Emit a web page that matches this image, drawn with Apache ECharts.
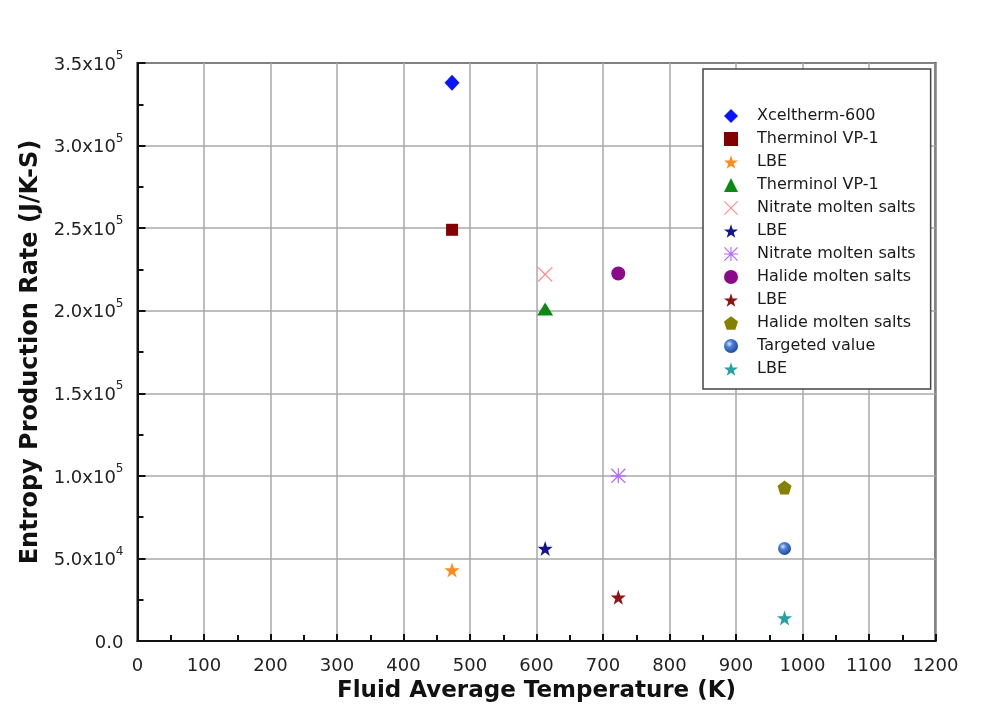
<!DOCTYPE html>
<html>
<head>
<meta charset="utf-8">
<script src="https://cdn.jsdelivr.net/npm/echarts@6/dist/echarts.min.js"></script>
<style>
html,body{margin:0;padding:0;background:#fff;}
#c{width:1005px;height:708px;}
</style>
</head>
<body>
<div id="c"></div>
<script>
// ---- data ----
var seriesNames = ['Xceltherm-600','Therminol VP-1','LBE','Therminol VP-1','Nitrate molten salts','LBE','Nitrate molten salts','Halide molten salts','LBE','Halide molten salts','Targeted value','LBE'];
var xValues = [473, 473, 473, 613, 613, 613, 723, 723, 723, 973, 973, 973];
var yValues = [338000, 249000, 43000, 201000, 222000, 56000, 100000, 222500, 26500, 93000, 56000, 14000];
var xTicks = [0,100,200,300,400,500,600,700,800,900,1000,1100,1200];
var yTickValues = [0, 50000, 100000, 150000, 200000, 250000, 300000, 350000];
var yTickMantissa = ['0.0','5.0','1.0','1.5','2.0','2.5','3.0','3.5'];
var yTickExponent = ['', '4', '5', '5', '5', '5', '5', '5'];

// ---- styles ----
var STAR = 'path://M50,0 L61.8,35.1 L97.6,35.4 L68.8,57.1 L79.4,91.2 L50,70.5 L20.6,91.2 L31.2,57.1 L2.4,35.4 L38.2,35.1 Z';
var XMARK = 'path://M0,6 L6,0 L50,44 L94,0 L100,6 L56,50 L100,94 L94,100 L50,56 L6,100 L0,94 L44,50 Z';
var ASTER = 'path://M46,0 H54 V100 H46 Z M0,46 H100 V54 H0 Z M0,6 L6,0 L50,44 L94,0 L100,6 L56,50 L100,94 L94,100 L50,56 L6,100 L0,94 L44,50 Z';
var PENT = 'path://M50,0 L97.6,34.5 L79.4,90.5 L20.6,90.5 L2.4,34.5 Z';
var sphere = {type:'radial', x:0.38, y:0.35, r:0.7, colorStops:[{offset:0,color:'#d8e6ff'},{offset:0.35,color:'#4a7fd6'},{offset:1,color:'#1d4796'}]};
var styles = [
  {symbol:'diamond', size:[15,16], color:'#0a14ff'},
  {symbol:'rect', size:12, color:'#820000'},
  {symbol:STAR, size:15, color:'#ff8c1a'},
  {symbol:'triangle', size:[16,13], color:'#0a8a14'},
  {symbol:XMARK, size:15, color:'#ff8a8a'},
  {symbol:STAR, size:15, color:'#14148c'},
  {symbol:ASTER, size:15, color:'#b266ff'},
  {symbol:'circle', size:14, color:'#8a0a8a'},
  {symbol:STAR, size:15, color:'#8c1414'},
  {symbol:PENT, size:14, color:'#858000'},
  {symbol:'circle', size:13, color:sphere},
  {symbol:STAR, size:15, color:'#26a0a0'}
];

var series = seriesNames.map(function(n, i){
  return {
    name: n + '\u200b'.repeat(i), // distinct legend entries for repeated names
    type: 'scatter',
    symbol: styles[i].symbol,
    symbolSize: styles[i].size,
    itemStyle: {color: styles[i].color, opacity: 1},
    data: [[xValues[i], yValues[i]]],
    z: 3
  };
});

var FONT = '"DejaVu Sans", sans-serif';
var chart = echarts.init(document.getElementById('c'), null, {renderer:'canvas'});
chart.setOption({
  backgroundColor: '#ffffff',
  animation: false,
  textStyle: {fontFamily: FONT},
  grid: {left:137.5, right:69.5, top:63, bottom:65, show:true, borderColor:'#111', borderWidth:2, backgroundColor:'transparent'},
  legend: {
    orient: 'vertical',
    left: 703, top: 69,
    padding: [39, 15, 12, 21],
    itemWidth: 14, itemHeight: 14, itemGap: 7,
    borderColor: '#444', borderWidth: 1.5,
    backgroundColor: '#fff',
    textStyle: {fontFamily: FONT, fontSize: 16, color: '#1a1a1a', padding:[0,0,0,14]},
    formatter: function(n){ return n.replace(/\u200b/g,''); },
    data: series.map(function(s){ return s.name; })
  },
  xAxis: {
    type: 'value', min: 0, max: 1200, interval: 100,
    name: 'Fluid Average Temperature (K)', nameLocation: 'middle', nameGap: 39,
    nameTextStyle: {fontFamily: FONT, fontSize: 23, fontWeight: 'bold', color: '#111'},
    axisLine: {show:true, lineStyle:{color:'#111', width:2}},
    axisTick: {show:true, inside:true, length:7, lineStyle:{color:'#111', width:2}},
    minorTick: {show:true, splitNumber:2, length:6, lineStyle:{color:'#111', width:2}},
    splitLine: {show:true, lineStyle:{color:'#a8a8a8', width:1.5}},
    axisLabel: {fontFamily: FONT, fontSize: 18, color:'#222', margin: 16,
      formatter: function(v){ return xTicks.indexOf(v) >= 0 ? String(v) : ''; }}
  },
  yAxis: {
    type: 'value', min: 0, max: 350000, interval: 50000,
    name: 'Entropy Production Rate (J/K-S)', nameLocation: 'middle', nameGap: 95,
    nameTextStyle: {fontFamily: FONT, fontSize: 24, fontWeight: 'bold', color: '#111'},
    axisLine: {show:true, lineStyle:{color:'#111', width:2}},
    axisTick: {show:true, inside:true, length:8, lineStyle:{color:'#111', width:2}},
    minorTick: {show:true, splitNumber:2, length:6, lineStyle:{color:'#111', width:2}},
    splitLine: {show:true, lineStyle:{color:'#a8a8a8', width:1.5}},
    axisLabel: {margin: 14,
      formatter: function(v){
        var i = yTickValues.indexOf(v);
        if (i < 0) return '';
        if (!yTickExponent[i]) return '{b|' + yTickMantissa[i] + '}';
        return '{b|' + yTickMantissa[i] + 'x10}{s|' + yTickExponent[i] + '}';
      },
      rich: {
        b: {fontFamily: FONT, fontSize: 18, color:'#222', padding:[4,0,0,0]},
        s: {fontFamily: FONT, fontSize: 12, color:'#222', verticalAlign:'bottom', padding:[0,0,14,0]}
      }
    }
  },
  series: series
});
</script>
</body>
</html>
